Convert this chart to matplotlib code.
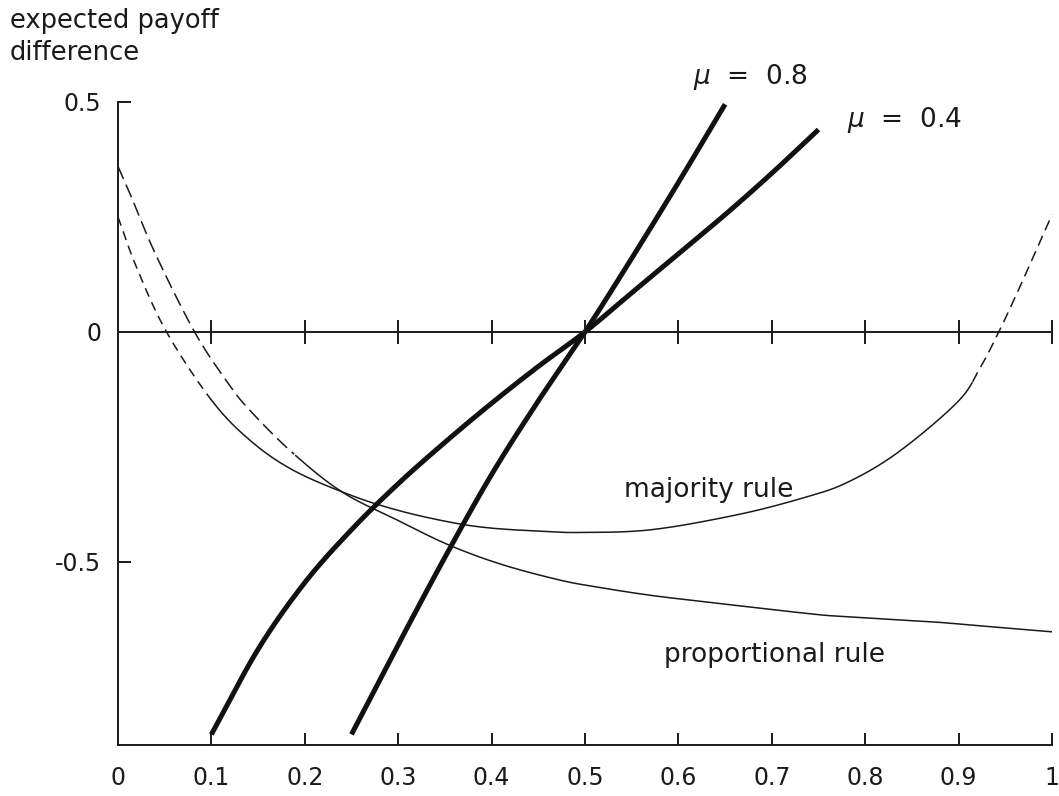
import matplotlib
matplotlib.use("Agg")
import matplotlib.pyplot as plt
import numpy as np

# values
maj_x = [0.0, 0.02, 0.052, 0.1, 0.141, 0.187, 0.248, 0.30, 0.354, 0.397, 0.45, 0.493,
         0.571, 0.664, 0.735, 0.781, 0.835, 0.899, 0.923, 0.943, 0.966, 1.0]
maj_y = [0.25, 0.14, 0.0, -0.148, -0.235, -0.300, -0.354, -0.388, -0.413, -0.426, -0.433, -0.436,
         -0.430, -0.397, -0.360, -0.327, -0.262, -0.152, -0.078, 0.0, 0.100, 0.255]

prop_x = [0.0, 0.013, 0.04, 0.082, 0.117, 0.141, 0.187, 0.240, 0.30, 0.354, 0.41, 0.472,
          0.514, 0.568, 0.621, 0.742, 0.781, 0.870, 0.923, 1.0]
prop_y = [0.36, 0.30, 0.17, 0.0, -0.109, -0.170, -0.263, -0.348, -0.41, -0.463, -0.505, -0.539,
          -0.555, -0.572, -0.585, -0.613, -0.619, -0.630, -0.639, -0.652]

mu04_x = [0.10, 0.15, 0.20, 0.25, 0.30, 0.35, 0.40, 0.45, 0.50, 0.55, 0.60, 0.65, 0.70, 0.75]
mu04_y = [-0.875, -0.69, -0.545, -0.43, -0.33, -0.24, -0.155, -0.075, 0.0, 0.085, 0.17, 0.255, 0.345, 0.44]

mu08_x = [0.25, 0.30, 0.35, 0.40, 0.45, 0.50, 0.55, 0.60, 0.65]
mu08_y = [-0.875, -0.68, -0.49, -0.31, -0.15, 0.0, 0.16, 0.325, 0.495]

xticks = [0.0, 0.1, 0.2, 0.3, 0.4, 0.5, 0.6, 0.7, 0.8, 0.9, 1.0]
xticklabels = ["0", "0.1", "0.2", "0.3", "0.4", "0.5", "0.6", "0.7", "0.8", "0.9", "1"]
yticks = [0.5, 0, -0.5]
yticklabels = ["0.5", "0", "-0.5"]

plt.rcParams['font.family'] = ['DejaVu Sans']
INK = '#1a1a1a'


def smooth(xs, ys, n=30):
    # Catmull-Rom through the read points
    x = np.asarray(xs, float)
    y = np.asarray(ys, float)
    px = np.concatenate([[2 * x[0] - x[1]], x, [2 * x[-1] - x[-2]]])
    py = np.concatenate([[2 * y[0] - y[1]], y, [2 * y[-1] - y[-2]]])
    outx, outy = [], []
    t = np.linspace(0, 1, n, endpoint=False)
    for i in range(1, len(px) - 2):
        for arr, out in ((px, outx), (py, outy)):
            p0, p1, p2, p3 = arr[i - 1], arr[i], arr[i + 1], arr[i + 2]
            out.extend(0.5 * (2 * p1 + (-p0 + p2) * t + (2 * p0 - 5 * p1 + 4 * p2 - p3) * t ** 2
                              + (-p0 + 3 * p1 - 3 * p2 + p3) * t ** 3))
    outx.append(x[-1])
    outy.append(y[-1])
    return np.array(outx), np.array(outy)


fig = plt.figure(figsize=(10.59, 7.96), dpi=100)
ax = fig.add_axes([0.1114, 0.0641, 0.8820, 0.8078])
ax.set_xlim(0, 1)
ax.set_ylim(-0.898, 0.5)


def split_plot(xs, ys, x_lo, x_hi, dash_lo, dash_hi):
    # fine curve, dashed near the ends, solid in between
    xf, yf = smooth(xs, ys)
    lo = xf <= x_lo
    mid = (xf >= x_lo) & (xf <= x_hi)
    hi = xf >= x_hi
    ax.plot(xf[lo], yf[lo], color=INK, lw=1.1, dashes=dash_lo)
    ax.plot(xf[mid], yf[mid], color=INK, lw=1.1)
    if hi.sum() > 1:
        ax.plot(xf[hi], yf[hi], color=INK, lw=1.1, dashes=dash_hi)


split_plot(maj_x, maj_y, 0.1, 0.915, (6, 4), (7, 4))
split_plot(prop_x, prop_y, 0.19, 1.01, (9, 4), (9, 4))

for xs, ys in ((mu04_x, mu04_y), (mu08_x, mu08_y)):
    sx, sy = smooth(xs, ys)
    ax.plot(sx, sy, color='#111111', lw=3.6, solid_capstyle='butt')

# horizontal zero line with crossing ticks
ax.axhline(0, color=INK, lw=1.4)
ax.plot(xticks[1:], [0] * (len(xticks) - 1), ls='none', marker='|', ms=17, mew=1.4, color=INK)

for side in ['top', 'right']:
    ax.spines[side].set_visible(False)
for side in ['left', 'bottom']:
    ax.spines[side].set_linewidth(1.4)
    ax.spines[side].set_color(INK)

ax.set_xticks(xticks)
ax.set_xticklabels(xticklabels)
ax.set_yticks(yticks)
ax.set_yticklabels(yticklabels)
ax.tick_params(axis='x', direction='in', length=9, width=1.4, pad=15, labelsize=17, colors=INK)
ax.tick_params(axis='y', direction='in', length=9, width=1.4, pad=12, labelsize=17, colors=INK)
ax.yaxis.get_major_ticks()[1].tick1line.set_visible(False)
ax.xaxis.get_major_ticks()[0].tick1line.set_visible(False)

ax.text(0.677, 0.554, r"$\mu$  =  0.8", fontsize=19, ha='center', va='center', clip_on=False, color=INK)
ax.text(0.842, 0.461, r"$\mu$  =  0.4", fontsize=19, ha='center', va='center', clip_on=False, color=INK)
ax.text(0.632, -0.343, "majority rule", fontsize=19, ha='center', va='center', color=INK)
ax.text(0.703, -0.702, "proportional rule", fontsize=19, ha='center', va='center', color=INK)

fig.text(0.009, 0.99, "expected payoff\ndifference", fontsize=18.5, ha='left', va='top',
         linespacing=1.3, color=INK)

fig.savefig("out.png", dpi=100)
